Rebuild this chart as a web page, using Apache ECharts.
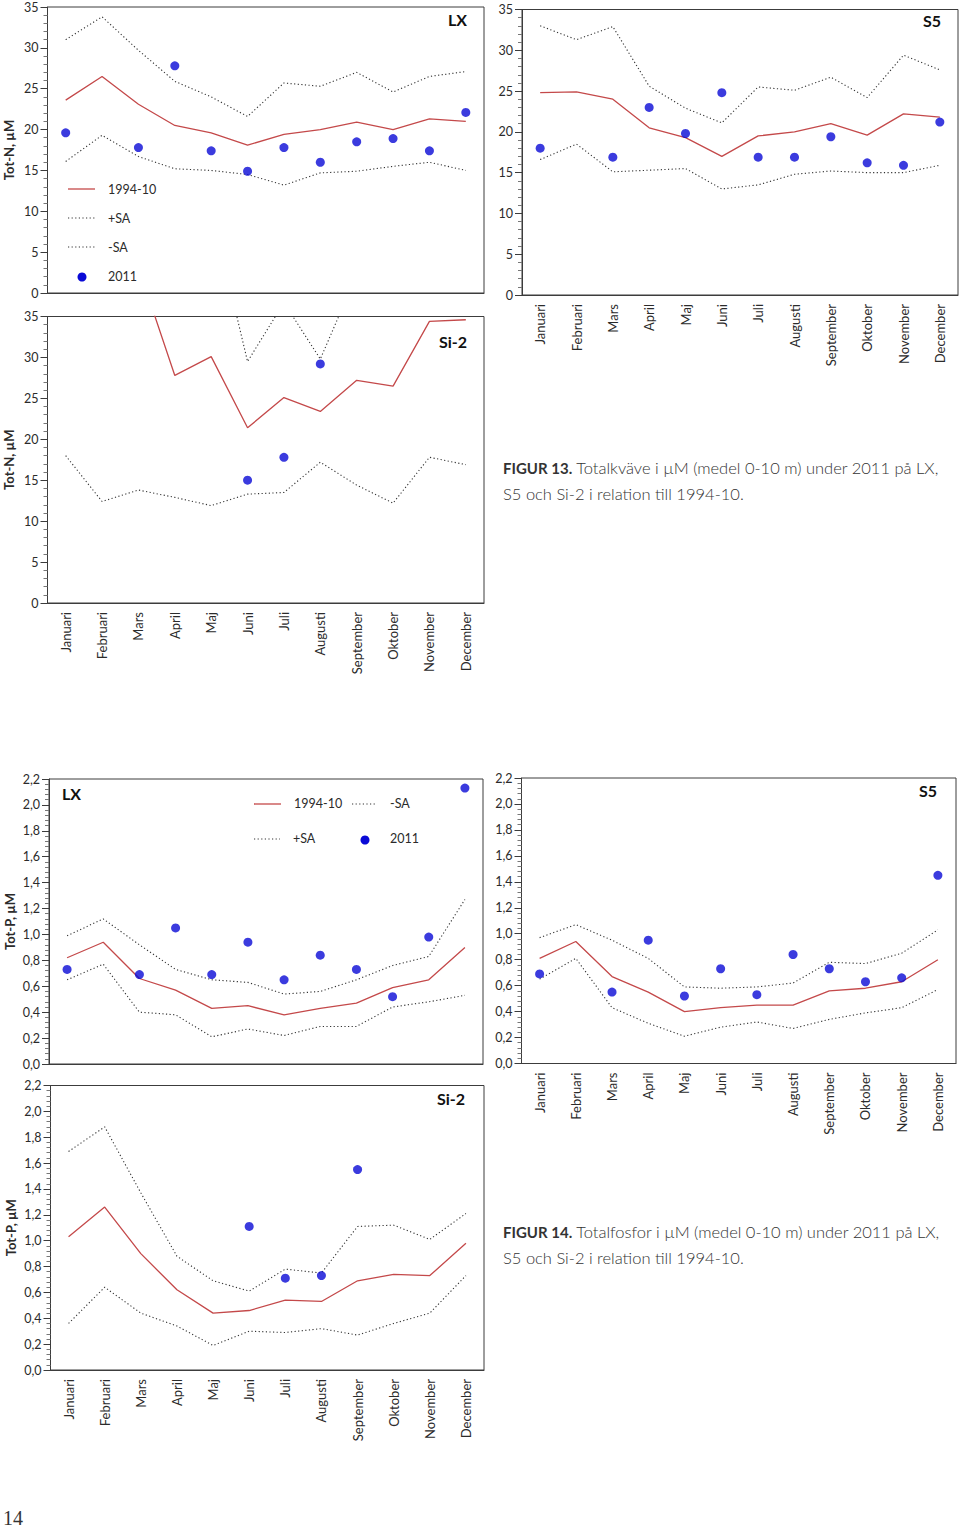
<!DOCTYPE html>
<html><head><meta charset="utf-8">
<script src="https://cdn.jsdelivr.net/npm/echarts@6/dist/echarts.min.js"></script>
<style>html,body{margin:0;padding:0;background:#fff}#c{width:960px;height:1529px}</style>
</head><body><div id="c"></div>
<script>
const months = ['Januari','Februari','Mars','April','Maj','Juni','Juli','Augusti','September','Oktober','November','December'];
const nTicks = [0,5,10,15,20,25,30,35];
const pTicks = [0,0.2,0.4,0.6,0.8,1.0,1.2,1.4,1.6,1.8,2.0,2.2];

// Tot-N, LX
const nLX_mean  = [23.6,26.5,23.1,20.5,19.6,18.1,19.4,20.0,20.9,20.0,21.3,21.0];
const nLX_plus  = [31.0,33.8,29.7,25.9,24.0,21.6,25.7,25.3,27.0,24.6,26.5,27.1];
const nLX_minus = [16.1,19.3,16.7,15.2,15.0,14.5,13.2,14.7,14.9,15.5,16.0,15.0];
const nLX_2011  = [19.6,'-',17.8,27.8,17.4,14.9,17.8,16.0,18.5,18.9,17.4,22.1];
// Tot-N, S5
const nS5_mean  = [24.8,24.9,24.0,20.5,19.3,17.0,19.5,20.0,21.0,19.6,22.2,21.8];
const nS5_plus  = [33.0,31.3,32.9,25.6,22.9,21.1,25.5,25.1,26.7,24.2,29.4,27.6];
const nS5_minus = [16.6,18.5,15.1,15.3,15.5,13.0,13.5,14.8,15.2,15.0,15.0,15.9];
const nS5_2011  = [18.0,'-',16.9,23.0,19.8,24.8,16.9,16.9,19.4,16.2,15.9,21.2];
// Tot-N, Si-2 (values above 35 run off the chart)
const nSi_mean  = [45.0,48.0,41.0,27.8,30.1,21.4,25.1,23.4,27.2,26.5,34.4,34.6];
const nSi_plus  = [48.0,50.0,50.0,46.0,48.2,29.5,36.7,29.8,40.1,42.0,46.0,47.0];
const nSi_minus = [18.0,12.4,13.8,12.9,11.9,13.3,13.5,17.2,14.4,12.2,17.8,16.9];
const nSi_2011  = ['-','-','-','-','-',15.0,17.8,29.2,'-','-','-','-'];

// Tot-P, LX
const pLX_mean  = [0.82,0.94,0.66,0.57,0.43,0.45,0.38,0.43,0.47,0.59,0.65,0.90];
const pLX_plus  = [0.99,1.12,0.92,0.73,0.65,0.63,0.54,0.56,0.65,0.76,0.83,1.27];
const pLX_minus = [0.65,0.77,0.40,0.38,0.21,0.27,0.22,0.29,0.29,0.44,0.48,0.53];
const pLX_2011  = [0.73,'-',0.69,1.05,0.69,0.94,0.65,0.84,0.73,0.52,0.98,2.13];
// Tot-P, S5
const pS5_mean  = [0.81,0.94,0.67,0.55,0.40,0.43,0.45,0.45,0.56,0.58,0.63,0.80];
const pS5_plus  = [0.97,1.07,0.95,0.81,0.59,0.58,0.59,0.62,0.78,0.77,0.85,1.03];
const pS5_minus = [0.65,0.81,0.43,0.31,0.21,0.28,0.32,0.27,0.34,0.39,0.43,0.57];
const pS5_2011  = [0.69,'-',0.55,0.95,0.52,0.73,0.53,0.84,0.73,0.63,0.66,1.45];
// Tot-P, Si-2
const pSi_mean  = [1.03,1.26,0.90,0.62,0.44,0.46,0.54,0.53,0.69,0.74,0.73,0.98];
const pSi_plus  = [1.69,1.88,1.37,0.88,0.69,0.61,0.78,0.75,1.11,1.12,1.01,1.21];
const pSi_minus = [0.36,0.64,0.44,0.34,0.19,0.30,0.29,0.32,0.27,0.36,0.44,0.73];
const pSi_2011  = ['-','-','-','-','-',1.11,0.71,0.73,1.55,'-','-','-'];

const RED = '#c4494a', DOT = '#333', BLUE = '#0a0ad6', AX = '#3c3c3c', TXT = '#2b2b2b';
const FONT = 'Lato, "Open Sans", sans-serif';

const grids = [
  {left:47.5, top:7,     width:436.5, height:286},
  {left:522,  top:9.5,   width:436,   height:285.5},
  {left:47.5, top:316.5, width:436.5, height:286.5},
  {left:49,   top:779,   width:434,   height:285},
  {left:521.5,top:778,   width:434.5, height:285.5},
  {left:50.5, top:1085.5,width:433.5, height:284.5}
].map(g => Object.assign({show:true, borderColor:AX, borderWidth:1, backgroundColor:'transparent'}, g));

const panels = [
  {data:[nLX_mean,nLX_plus,nLX_minus,nLX_2011], ticks:nTicks, labels:false, name:'Tot-N, µM'},
  {data:[nS5_mean,nS5_plus,nS5_minus,nS5_2011], ticks:nTicks, labels:true,  name:''},
  {data:[nSi_mean,nSi_plus,nSi_minus,nSi_2011], ticks:nTicks, labels:true,  name:'Tot-N, µM'},
  {data:[pLX_mean,pLX_plus,pLX_minus,pLX_2011], ticks:pTicks, labels:false, name:'Tot-P, µM'},
  {data:[pS5_mean,pS5_plus,pS5_minus,pS5_2011], ticks:pTicks, labels:true,  name:''},
  {data:[pSi_mean,pSi_plus,pSi_minus,pSi_2011], ticks:pTicks, labels:true,  name:'Tot-P, µM'}
];

const xAxis = [], yAxis = [], series = [];
panels.forEach((p, i) => {
  const isP = p.ticks === pTicks;
  xAxis.push({
    type:'category', gridIndex:i, data:months, boundaryGap:true,
    axisLine:{lineStyle:{color:AX, width:1}},
    axisTick:{alignWithLabel:true, length:6, lineStyle:{color:AX}},
    axisLabel:{show:p.labels, rotate:90, fontSize:13, color:TXT, fontFamily:FONT, margin:9, interval:0},
    splitLine:{show:false}
  });
  yAxis.push({
    type:'value', gridIndex:i, min:p.ticks[0], max:p.ticks[p.ticks.length-1],
    interval:p.ticks[1]-p.ticks[0],
    name:p.name, nameLocation:'middle', nameGap:isP ? 33 : 32,
    nameTextStyle:{fontWeight:'bold', fontSize:13, color:TXT, fontFamily:FONT},
    axisLine:{show:true, lineStyle:{color:AX, width:1}},
    axisTick:{show:true, length:7, lineStyle:{color:AX}},
    minorTick:{show:true, splitNumber:5, length:4, lineStyle:{color:'#777'}},
    splitLine:{show:false},
    axisLabel:{fontSize:12.5, color:TXT, fontFamily:FONT, margin:9,
      formatter: v => isP ? v.toFixed(1).replace('.', ',') : String(v)}
  });
  const [mean, plus, minus, obs] = p.data;
  const base = {type:'line', xAxisIndex:i, yAxisIndex:i, symbol:'none', clip:true, silent:true, animation:false};
  series.push(Object.assign({}, base, {name:'1994-10', data:mean, lineStyle:{color:RED, width:1.3}, z:3}));
  series.push(Object.assign({}, base, {name:'+SA', data:plus, lineStyle:{color:DOT, width:1.1, type:[1.2,2.4]}, z:2}));
  series.push(Object.assign({}, base, {name:'-SA', data:minus, lineStyle:{color:DOT, width:1.1, type:[1.2,2.4]}, z:2}));
  series.push({type:'scatter', name:'2011', xAxisIndex:i, yAxisIndex:i, data:obs, symbol:'circle',
    symbolSize:9, itemStyle:{color:BLUE}, z:4, silent:true, animation:false});
});

function txt(x, y, s, opt) {
  return {type:'text', x:x, y:y, silent:true, style:Object.assign({text:s, fill:TXT, font:'12.5px ' + FONT, textVerticalAlign:'middle'}, opt || {})};
}
function seg(x1, y, x2, dotted) {
  return {type:'line', silent:true, shape:{x1:x1, y1:y, x2:x2, y2:y},
    style:{stroke: dotted ? DOT : RED, lineWidth: dotted ? 1.1 : 1.3, lineDash: dotted ? [1.2,2.4] : null}};
}
function dot(x, y) {
  return {type:'circle', silent:true, shape:{cx:x, cy:y, r:4.5}, style:{fill:BLUE}};
}
const stationFont = 'bold 16px ' + FONT;
const capFont = '300 16.5px ' + FONT;
const capRich = {b:{font:'bold 15px ' + FONT, fill:'#333'}};

const graphic = [
  // station names
  txt(467, 19, 'LX', {font:stationFont, textAlign:'right', fill:'#111'}),
  txt(941, 20, 'S5', {font:stationFont, textAlign:'right', fill:'#111'}),
  txt(467, 341, 'Si-2', {font:stationFont, textAlign:'right', fill:'#111'}),
  txt(62, 793, 'LX', {font:stationFont, textAlign:'left', fill:'#111'}),
  txt(937, 790, 'S5', {font:stationFont, textAlign:'right', fill:'#111'}),
  txt(465, 1098, 'Si-2', {font:stationFont, textAlign:'right', fill:'#111'}),
  // legend Tot-N LX
  seg(68, 189, 95, false), txt(108, 189, '1994-10'),
  seg(68, 218, 95, true),  txt(108, 218, '+SA'),
  seg(68, 247, 95, true),  txt(108, 247, '-SA'),
  dot(82, 277),            txt(108, 276, '2011'),
  // legend Tot-P LX
  seg(254, 804, 281, false), txt(294, 803, '1994-10'),
  seg(352, 804, 377, true),  txt(390, 803, '-SA'),
  seg(254, 839, 280, true),  txt(293, 838, '+SA'),
  dot(365, 840),             txt(390, 838, '2011'),
  // captions
  {type:'text', x:503, y:468, silent:true, style:{text:'{b|FIGUR 13.} Totalkväve i µM (medel 0-10 m) under 2011 på LX,', rich:capRich, font:capFont, fill:'#333', textVerticalAlign:'middle'}},
  {type:'text', x:503, y:494, silent:true, style:{text:'S5 och Si-2 i relation till 1994-10.', font:capFont, fill:'#333', textVerticalAlign:'middle'}},
  {type:'text', x:503, y:1232, silent:true, style:{text:'{b|FIGUR 14.} Totalfosfor i µM (medel 0-10 m) under 2011 på LX,', rich:capRich, font:capFont, fill:'#333', textVerticalAlign:'middle'}},
  {type:'text', x:503, y:1258, silent:true, style:{text:'S5 och Si-2 i relation till 1994-10.', font:capFont, fill:'#333', textVerticalAlign:'middle'}},
  // page number
  {type:'text', x:3, y:1518, silent:true, style:{text:'14', font:'20px "Liberation Serif", serif', fill:'#333', textVerticalAlign:'middle'}}
];

const chart = echarts.init(document.getElementById('c'), null, {renderer:'svg', width:960, height:1529});
chart.setOption({
  backgroundColor:'#fff', animation:false,
  grid:grids, xAxis:xAxis, yAxis:yAxis, series:series, graphic:graphic
});
</script></body></html>
